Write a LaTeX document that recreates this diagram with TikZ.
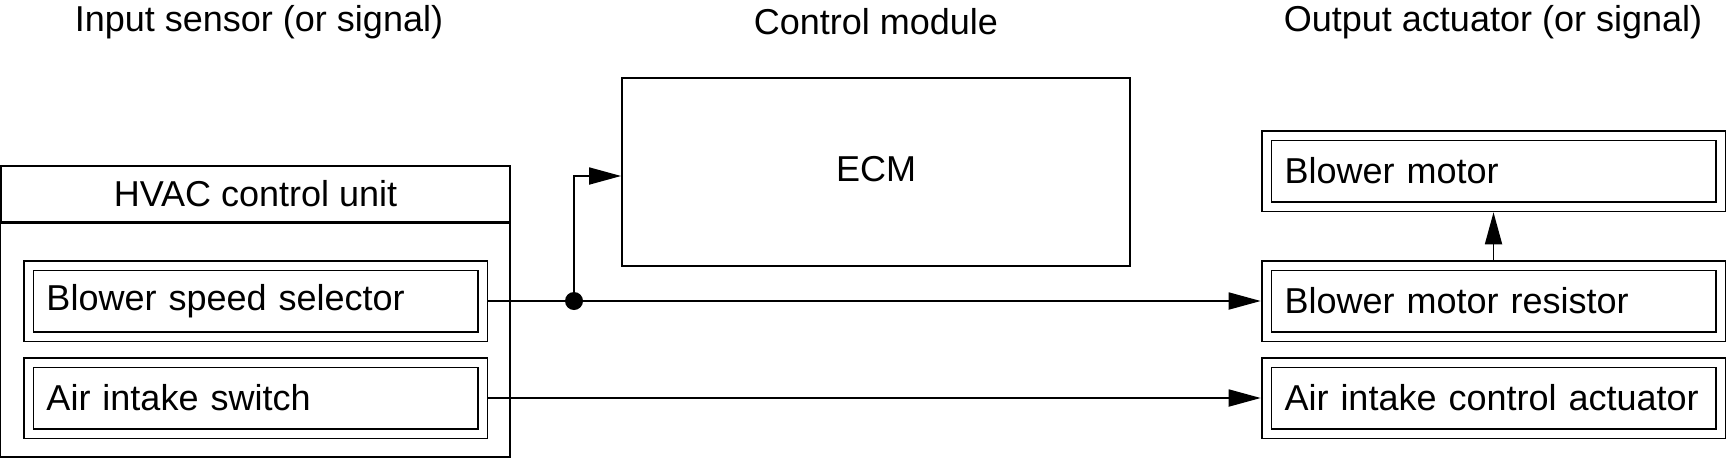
\documentclass[tikz,border=0pt]{standalone}
\usepackage{fontspec}
\setmainfont{Liberation Sans}
\usetikzlibrary{arrows.meta}
\begin{document}
\begin{tikzpicture}[x=0.5pt,y=-0.5pt,line width=0.9pt,
  font=\fontsize{18}{21}\selectfont,
  unitbox/.style={draw,double,double distance=4pt,outer sep=2.9pt,
    minimum width=227pt,minimum height=35.5pt,inner xsep=9pt,inner ysep=0pt,
    text width=209pt,align=left},
  plainbox/.style={draw,inner sep=0pt},
  dot/.style={circle,fill,inner sep=0pt,minimum size=9pt},
  >={Triangle[length=16pt,width=8.5pt]}]
  \newcommand{\leftcol}{255.5}
  \newcommand{\rightcol}{1493.5}
  \useasboundingbox (0,0) rectangle (1728,461);
  % column titles
  \node (insig) at (259,22) {Input sensor (or signal)};
  \node (ctrl) at (876,22) {Control module};
  \node (outsig) at (1493,22) {Output actuator (or signal)};
  % HVAC control unit
  \node[plainbox,minimum width=254.5pt,minimum height=27.75pt] (hvac) at (\leftcol,194) {HVAC control unit};
  \coordinate (hvacend) at (510,457);
  \draw (hvac.south west) rectangle (hvacend);
  \node[unitbox] (speed) at (\leftcol,301) {Blower speed selector};
  \node[unitbox] (intake) at (\leftcol,398) {Air intake switch};
  % ECM
  \node[plainbox,minimum width=254pt,minimum height=94pt] (ecm) at (876,172) {\raisebox{3pt}{ECM}};
  % actuators
  \node[unitbox] (motor) at (\rightcol,171) {Blower motor};
  \node[unitbox] (resistor) at (\rightcol,301) {Blower motor resistor};
  \node[unitbox] (actuator) at (\rightcol,398) {Air intake control actuator};
  % signal lines
  \node[dot] (split) at (574,301) {};
  \draw (speed.east) -- (split.center);
  \draw[->] (split.center) -- (resistor.west);
  \draw[->] (split.center) |- ([yshift=-2pt]ecm.west);
  \draw[->] (intake.east) -- (actuator.west);
  \draw[->] (resistor.north) -- (motor.south);
\end{tikzpicture}
\end{document}
